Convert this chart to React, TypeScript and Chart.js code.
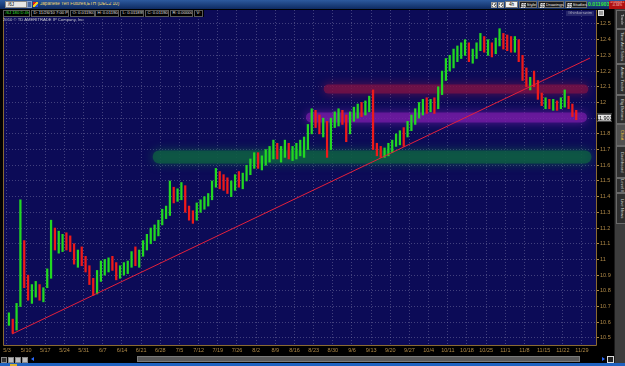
import React, { useEffect, useRef } from "react";
import { Chart, registerables } from "chart.js";
Chart.register(...registerables);

// ---- data ----
const weekLabels = [
  "5/3", "5/10", "5/17", "5/24", "5/31", "6/7", "6/14", "6/21", "6/28", "7/5",
  "7/12", "7/19", "7/26", "8/2", "8/9", "8/16", "8/23", "8/30", "9/6", "9/13",
  "9/20", "9/27", "10/4", "10/11", "10/18", "10/25", "11/1", "11/8", "11/15", "11/22", "11/29",
];
const barsPerWeek = 5;
const yTickValues = [12.5, 12.4, 12.3, 12.2, 12.1, 12.0, 11.9, 11.8, 11.7, 11.6, 11.5, 11.4, 11.3, 11.2, 11.1, 11.0, 10.9, 10.8, 10.7, 10.6, 10.5];

const highs = [
  10.66, 10.62, 10.72, 11.38, 11.12,
  10.90, 10.84, 10.86, 10.84, 10.82,
  10.94, 11.25, 11.20, 11.18, 11.16,
  11.17, 11.15, 11.10, 11.06, 11.08,
  11.02, 10.96, 10.88, 10.93, 10.99,
  11.00, 11.01, 11.02, 10.98, 10.96,
  10.98, 10.99, 11.05, 11.08, 11.06,
  11.12, 11.16, 11.20, 11.22, 11.25,
  11.32, 11.34, 11.50, 11.46, 11.45,
  11.49, 11.47, 11.34, 11.31, 11.36,
  11.38, 11.40, 11.42, 11.50, 11.58,
  11.56, 11.54, 11.52, 11.50, 11.54,
  11.56, 11.55, 11.60, 11.64, 11.68,
  11.68, 11.66, 11.70, 11.72, 11.76,
  11.74, 11.72, 11.76, 11.74, 11.72,
  11.74, 11.76, 11.78, 11.86, 11.96,
  11.95, 11.92, 11.90, 11.88, 11.90,
  11.94, 11.96, 11.95, 11.92, 11.94,
  11.97, 11.99, 12.00, 12.01, 12.04,
  12.08, 11.74, 11.72, 11.71, 11.74,
  11.76, 11.80, 11.82, 11.84, 11.88,
  11.92, 11.96, 12.00, 12.02, 12.03,
  12.02, 12.03, 12.10, 12.20, 12.28,
  12.30, 12.34, 12.36, 12.38, 12.40,
  12.38, 12.34, 12.38, 12.44, 12.42,
  12.40, 12.38, 12.41, 12.47, 12.44,
  12.43, 12.42, 12.42, 12.40, 12.30,
  12.22, 12.16, 12.20, 12.14, 12.06,
  12.03, 12.02, 12.02, 12.01, 12.03,
  12.08, 12.04, 11.99, 11.95,
];
const lows = [
  10.58, 10.53, 10.55, 10.70, 10.82,
  10.74, 10.72, 10.76, 10.74, 10.73,
  10.82, 10.88, 11.06, 11.04, 11.05,
  11.06, 11.05, 10.97, 10.95, 10.96,
  10.92, 10.84, 10.77, 10.78, 10.86,
  10.90, 10.92, 10.93, 10.87, 10.88,
  10.90, 10.91, 10.95, 10.96, 10.95,
  11.02, 11.06, 11.10, 11.12, 11.15,
  11.22, 11.26, 11.28, 11.36, 11.37,
  11.38, 11.30, 11.25, 11.23, 11.25,
  11.30, 11.32, 11.34, 11.38, 11.46,
  11.45, 11.44, 11.42, 11.40, 11.44,
  11.46, 11.45, 11.50, 11.54, 11.58,
  11.58, 11.57, 11.60, 11.62, 11.64,
  11.64, 11.62, 11.65, 11.64, 11.63,
  11.64, 11.66, 11.65, 11.70, 11.80,
  11.84, 11.80, 11.78, 11.65, 11.70,
  11.84, 11.85, 11.86, 11.75, 11.80,
  11.88, 11.90, 11.91, 11.92, 11.94,
  11.70, 11.66, 11.65, 11.65, 11.66,
  11.68, 11.72, 11.73, 11.72, 11.78,
  11.82, 11.86, 11.90, 11.92, 11.93,
  11.94, 11.93, 11.96, 12.05, 12.14,
  12.20, 12.22, 12.26, 12.28, 12.30,
  12.26, 12.25, 12.28, 12.33, 12.32,
  12.30, 12.29, 12.31, 12.36, 12.34,
  12.33, 12.32, 12.32, 12.26, 12.14,
  12.10, 12.08, 12.10, 12.02, 11.98,
  11.96, 11.96, 11.95, 11.95, 11.96,
  11.97, 11.96, 11.91, 11.89,
];
const closes = [
  10.60, 10.56, 10.70, 11.10, 10.88,
  10.78, 10.80, 10.82, 10.76, 10.79,
  10.91, 11.18, 11.10, 11.12, 11.13,
  11.12, 11.08, 11.00, 11.02, 10.98,
  10.94, 10.86, 10.80, 10.90, 10.95,
  10.96, 10.98, 10.97, 10.90, 10.93,
  10.95, 10.97, 11.03, 11.00, 11.04,
  11.09, 11.14, 11.16, 11.19, 11.22,
  11.30, 11.30, 11.44, 11.40, 11.42,
  11.46, 11.32, 11.28, 11.26, 11.34,
  11.35, 11.37, 11.40, 11.48, 11.55,
  11.50, 11.48, 11.46, 11.47, 11.52,
  11.50, 11.52, 11.58, 11.60, 11.66,
  11.62, 11.64, 11.67, 11.68, 11.72,
  11.68, 11.70, 11.72, 11.66, 11.70,
  11.70, 11.72, 11.74, 11.84, 11.90,
  11.88, 11.84, 11.86, 11.70, 11.86,
  11.90, 11.92, 11.88, 11.80, 11.90,
  11.94, 11.96, 11.95, 11.98, 12.00,
  11.73, 11.70, 11.68, 11.69, 11.72,
  11.74, 11.78, 11.80, 11.76, 11.86,
  11.88, 11.93, 11.96, 11.98, 11.97,
  11.98, 11.95, 12.08, 12.17, 12.24,
  12.26, 12.30, 12.32, 12.35, 12.36,
  12.30, 12.32, 12.36, 12.40, 12.36,
  12.36, 12.34, 12.39, 12.42, 12.40,
  12.38, 12.36, 12.38, 12.28, 12.18,
  12.12, 12.14, 12.12, 12.04, 12.00,
  12.00, 11.98, 11.99, 11.97, 12.01,
  12.03, 11.98, 11.94, 11.903,
];

// trend line (bar index, price)
const trendBars = [1.3, 152.1];
const trendPrices = [10.525, 12.283];

// horizontal glow bands: resistance, pivot, support
const bandStartBars = [83.8, 79.3, 39.7];
const bandEndBars = [150.5, 150.0, 150.8];
const bandPrices = [12.086, 11.905, 11.653];

const X_MIN = -1.04;
const X_MAX = 153.66;
const Y_MIN = 10.455;
const Y_MAX = 12.589;

const fmtY = (v: number) => {
  const r = Math.round(v * 10) / 10;
  return Number.isInteger(r) ? String(r) : r.toFixed(1);
};

const TAN = "#B08A48";
const GRID = "rgba(120,120,165,0.5)";
const FONT = "'Liberation Sans', 'DejaVu Sans', sans-serif";

export default function App() {
  const ref = useRef<HTMLCanvasElement | null>(null);

  useEffect(() => {
    if (!ref.current) return;
    const bandColors = ["rgba(125,18,68,0.72)", "rgba(118,28,165,0.72)", "rgba(14,92,66,0.78)"];
    const bandGlow = ["rgba(135,20,75,0.95)", "rgba(128,30,178,0.95)", "rgba(16,100,70,0.95)"];
    const bandWidths = [9, 10, 13];

    const barColors = closes.map((c, i) => (c >= (i > 0 ? closes[i - 1] : c) ? "#22D822" : "#EE1A1A"));

    const datasets: any[] = bandPrices.map((p, k) => ({
      type: "line",
      data: [
        { x: bandStartBars[k], y: p },
        { x: bandEndBars[k], y: p },
      ],
      borderColor: bandColors[k],
      borderWidth: bandWidths[k],
      borderCapStyle: "round",
      pointRadius: 0,
      fill: false,
      order: 3,
      glowColor: bandGlow[k],
      glowBlur: 10,
    }));
    datasets.push({
      type: "bar",
      data: closes.map((_, i) => ({ x: i + 0.5, y: [lows[i], highs[i]] })),
      backgroundColor: barColors,
      borderWidth: 0,
      barThickness: 1.6,
      order: 2,
    });
    datasets.push({
      type: "line",
      data: trendBars.map((b, k) => ({ x: b, y: trendPrices[k] })),
      borderColor: "#E3203C",
      borderWidth: 1,
      pointRadius: 0,
      fill: false,
      order: 1,
    });

    const bgPlugin = {
      id: "bg",
      beforeDraw(chart: any) {
        const { ctx, chartArea: a } = chart;
        ctx.save();
        ctx.fillStyle = "#000";
        ctx.fillRect(0, 0, chart.width, chart.height);
        ctx.fillStyle = "#0C0B57";
        ctx.fillRect(a.left, a.top, a.right - a.left, a.bottom - a.top);
        ctx.restore();
      },
      afterDraw(chart: any) {
        const { ctx, chartArea: a } = chart;
        ctx.save();
        ctx.strokeStyle = "#8A6A32";
        ctx.lineWidth = 1;
        ctx.beginPath();
        ctx.moveTo(a.left + 0.5, a.top);
        ctx.lineTo(a.left + 0.5, a.bottom + 0.5);
        ctx.lineTo(a.right + 0.5, a.bottom + 0.5);
        ctx.lineTo(a.right + 0.5, a.top);
        ctx.stroke();
        const last = closes[closes.length - 1];
        const y = chart.scales.y.getPixelForValue(last);
        ctx.fillStyle = "#E4E4E4";
        ctx.fillRect(a.right + 1, y - 4, 15, 8);
        ctx.strokeStyle = "#222";
        ctx.strokeRect(a.right + 1.5, y - 3.5, 14, 7);
        ctx.fillStyle = "#000";
        ctx.font = "5.5px " + FONT;
        ctx.textAlign = "center";
        ctx.textBaseline = "middle";
        ctx.fillText(last.toFixed(3), a.right + 8.5, y + 0.5);
        ctx.restore();
      },
    };

    const glowPlugin = {
      id: "glow",
      beforeDatasetDraw(chart: any, args: any) {
        const ds = chart.data.datasets[args.index];
        if (ds.glowColor) {
          chart.ctx.save();
          chart.ctx.shadowColor = ds.glowColor;
          chart.ctx.shadowBlur = ds.glowBlur;
        }
      },
      afterDatasetDraw(chart: any, args: any) {
        const ds = chart.data.datasets[args.index];
        if (ds.glowColor) chart.ctx.restore();
      },
    };

    const chart = new Chart(ref.current, {
      type: "bar",
      data: { datasets },
      options: {
        animation: false,
        responsive: false,
        maintainAspectRatio: false,
        layout: { padding: { left: 3, top: 1, right: 0, bottom: 0 } },
        plugins: { legend: { display: false }, tooltip: { enabled: false }, title: { display: false } },
        scales: {
          x: {
            type: "linear",
            min: X_MIN,
            max: X_MAX,
            offset: false,
            afterFit: (s: any) => {
              s.height = 11;
              s.paddingLeft = 0;
              s.paddingRight = 0;
            },
            afterBuildTicks: (s: any) => {
              s.ticks = weekLabels.map((_, w) => ({ value: w * barsPerWeek }));
            },
            ticks: {
              callback: (v: any) => weekLabels[Math.round(Number(v) / barsPerWeek)],
              color: TAN,
              font: { size: 5.5, family: FONT },
              padding: 2,
              autoSkip: false,
              maxRotation: 0,
              minRotation: 0,
            },
            grid: { color: GRID, drawTicks: false, offset: false, lineWidth: 1 },
            border: { display: false, dash: [1, 2] },
          },
          y: {
            type: "linear",
            position: "right",
            min: Y_MIN,
            max: Y_MAX,
            afterFit: (s: any) => {
              s.width = 16;
              s.paddingTop = 0;
              s.paddingBottom = 0;
            },
            afterBuildTicks: (s: any) => {
              s.ticks = yTickValues.map((v) => ({ value: v }));
            },
            ticks: {
              callback: (v: any) => fmtY(Number(v)),
              color: TAN,
              font: { size: 5.5, family: FONT },
              padding: 1,
              autoSkip: false,
            },
            grid: { color: GRID, tickColor: TAN, tickLength: 3, tickBorderDash: [], lineWidth: 1 },
            border: { display: false, dash: [1, 2] },
          },
        },
      } as any,
      plugins: [bgPlugin, glowPlugin],
    });
    return () => chart.destroy();
  }, []);

  const infoBoxes: [number, number, string, string][] = [
    [3, 27, "/6J 180 D 4h", "#3CE03C"],
    [31, 38, "D: 11/26/10 7:00 PM", "#E0E0E0"],
    [70, 25, "O: 0.011903", "#E0E0E0"],
    [95, 24, "H: 0.011904", "#E0E0E0"],
    [120, 24, "L: 0.011895", "#E0E0E0"],
    [145, 24, "C: 0.011903", "#E0E0E0"],
    [170, 23, "R: 0.000009", "#E0E0E0"],
    [194, 9, "V:", "#E0E0E0"],
  ];
  const tabs: [number, number, string, boolean][] = [
    [10, 19, "Trade", false],
    [29, 35, "Time And Sales", false],
    [64, 31, "Active Trader", false],
    [95, 29, "Big Buttons", false],
    [124, 22, "Chart", true],
    [146, 32, "Dashboard", false],
    [178, 15, "Level II", false],
    [193, 31, "Live News", false],
  ];
  const abs = (l: number, t: number, w: number, h: number, extra: any = {}) => ({
    position: "absolute" as const,
    left: l,
    top: t,
    width: w,
    height: h,
    boxSizing: "border-box" as const,
    ...extra,
  });
  const tiny = { fontFamily: FONT, whiteSpace: "nowrap" as const, overflow: "hidden" as const, lineHeight: "1" };

  return (
    <div style={abs(0, 0, 625, 366, { position: "fixed", background: "#000", overflow: "hidden" })}>
      {/* title bar */}
      <div style={abs(0, 0, 625, 9, { background: "linear-gradient(#2D5A9E, #0E2A60)" })}>
        <div style={abs(5, 1, 22, 7, { background: "#E6E6E6", border: "1px solid #888", ...tiny, fontSize: 4.5, color: "#000", paddingLeft: 2, paddingTop: 0.5 })}>/6J</div>
        <div style={abs(27, 1, 5, 7, { background: "#4A6AA0", border: "1px solid #8AA0C8" })} />
        <div style={abs(33, 2, 5, 5, { background: "linear-gradient(135deg,#E02020 0 33%,#F0D020 33% 66%,#2050E0 66%)" })} />
        <div style={abs(40, 2, 120, 6, { ...tiny, fontSize: 4.6, color: "#F0D870" })}>Japanese Yen Futures,ETH (DEC2 10)</div>
        <div style={abs(491, 1.5, 6, 6, { background: "repeating-conic-gradient(#EEE 0 25%, #777 0 50%) 0 0/3px 3px", border: "1px solid #999" })} />
        <div style={abs(498, 1.5, 6, 6, { background: "repeating-conic-gradient(#EEE 0 25%, #777 0 50%) 0 0/3px 3px", border: "1px solid #999" })} />
        <div style={abs(505, 1, 13, 7, { background: "#F2F2F2", border: "1px solid #777", ...tiny, fontSize: 4.6, color: "#000", textAlign: "center", paddingTop: 0.8 })}>4h</div>
        {([
          [519, 18, "Style"],
          [538, 26, "Drawings"],
          [565, 22, "Studies"],
        ] as [number, number, string][]).map(([l, w, t]) => (
          <div key={t} style={abs(l, 1, w, 7, { background: "#1A1A1A", border: "1px solid #6A6A6A" })}>
            <div style={abs(0.5, 0.5, 5, 5, { background: "repeating-conic-gradient(#EEE 0 25%, #666 0 50%) 0 0/2.5px 2.5px" })} />
            <div style={abs(6.5, 0.8, w - 7, 5, { ...tiny, fontSize: 4.4, color: "#E8E8E8" })}>{t}</div>
          </div>
        ))}
        <div style={abs(588, 1.5, 21, 6, { ...tiny, fontSize: 5.2, fontWeight: "bold", color: "#38E838" })}>0.011903</div>
        <div style={abs(609, 0.5, 16, 8, { background: "#B01010", ...tiny, fontSize: 3.2, color: "#FFD0D0", textAlign: "center", paddingTop: 0.5 })}>
          -0.000041
          <br />
          -0.34%
        </div>
      </div>

      {/* chart canvas */}
      <div style={abs(0, 9, 612, 347)}>
        <canvas ref={ref} width={612} height={347} style={{ width: 612, height: 347, display: "block" }} />
      </div>

      {/* info row */}
      <div style={abs(0, 9, 204, 8, { background: "#000" })}>
        {infoBoxes.map(([l, w, t, c]) => (
          <div key={t} style={abs(l, 0.5, w, 7, { border: "1px solid #5A5A5A", ...tiny, fontSize: 4.2, color: c, paddingLeft: 1.5, paddingTop: 0.8 })}>
            {t}
          </div>
        ))}
      </div>
      <div style={abs(3, 18, 90, 5, { ...tiny, fontSize: 4.2, color: "#C8C8D0" })}>2010 © TD AMERITRADE IP Company, Inc.</div>
      <div style={abs(566, 11, 28, 5, { background: "#26266A", ...tiny, fontSize: 4.2, color: "#A8A8C0", textAlign: "center", paddingTop: 0.3 })}>#thinkorswim</div>
      <div style={abs(598, 10, 6, 6, { background: "#9A9A9A", border: "1px solid #DDD" })} />

      {/* side tabs */}
      <div style={abs(614, 9, 11, 354, { background: "#3C3C3C", borderLeft: "1px solid #1A1A1A" })}>
        {tabs.map(([t, h, label, active]) => (
          <div
            key={label}
            style={abs(1, t - 9, 10, h, {
              background: active ? "#505050" : "#2E2E2E",
              border: "1px solid #6A6A6A",
              ...tiny,
              fontSize: 4.2,
              color: active ? "#F0C840" : "#D0D0D0",
              writingMode: "vertical-rl",
              textAlign: "center",
              paddingRight: 1.5,
            })}
          >
            {label}
          </div>
        ))}
      </div>

      {/* bottom bar */}
      {[1, 8, 15, 22].map((l, k) => (
        <div key={l} style={abs(l, 356.5, 6, 6, { background: k === 0 ? "#333" : "#BDBDBD", border: "1px solid #888" })} />
      ))}
      <div style={{ position: "absolute", left: 31, top: 357, width: 0, height: 0, borderTop: "2.5px solid transparent", borderBottom: "2.5px solid transparent", borderRight: "3px solid #2A6AFF" }} />
      <div style={abs(137, 356, 443, 6, { background: "#5A5A5A", border: "1px solid #7A7A7A" })} />
      <div style={{ position: "absolute", left: 602, top: 357, width: 0, height: 0, borderTop: "2.5px solid transparent", borderBottom: "2.5px solid transparent", borderLeft: "3px solid #2A6AFF" }} />
      <div style={abs(607, 355.5, 7, 7, { background: "#222", border: "1px solid #DDD" })} />
      <div style={abs(0, 363, 625, 3, { background: "#1E62C0" })} />
      <div style={abs(10, 363.5, 7, 2.5, { background: "#D8B030" })} />
    </div>
  );
}
